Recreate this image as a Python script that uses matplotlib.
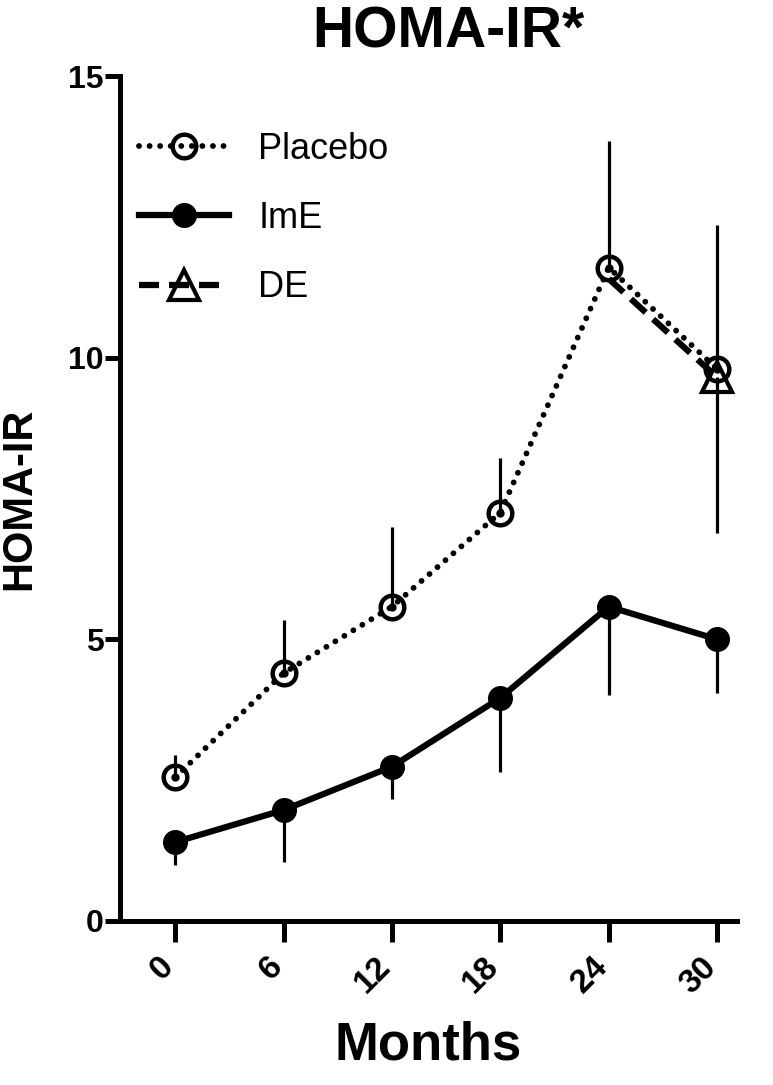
import matplotlib
matplotlib.use("Agg")
import matplotlib.pyplot as plt

plt.rcParams['font.family'] = ['Liberation Sans', 'DejaVu Sans']

# datos
months = [0, 6, 12, 18, 24, 30]
placebo = [2.55, 4.4, 5.58, 7.25, 11.6, 9.8]
placebo_top = [2.95, 5.35, 7.0, 8.22, 13.84, 12.35]
ime = [1.4, 1.97, 2.74, 3.96, 5.58, 5.0]
ime_low = [1.0, 1.05, 2.17, 2.65, 4.01, 4.05]
de_months = [24, 30]
de = [11.4, 9.65]
de_low = [11.4, 6.89]

fig = plt.figure(figsize=(7.73, 10.85), dpi=100)
ax = fig.add_axes([120/773, 1 - 921/1085, 617/773, 845/1085])

# barras de error (solo un lado)
placebo_up = [t - v for t, v in zip(placebo_top, placebo)]
ime_dn = [v - l for v, l in zip(ime, ime_low)]
de_dn = [v - l for v, l in zip(de, de_low)]
ax.errorbar(months, placebo, yerr=[[0]*len(months), placebo_up], fmt='none',
            ecolor='black', elinewidth=2.3, capsize=0, zorder=2)
ax.errorbar(months, ime, yerr=[ime_dn, [0]*len(months)], fmt='none',
            ecolor='black', elinewidth=2.3, capsize=0, zorder=2)
ax.errorbar(de_months[1:], de[1:], yerr=[de_dn[1:], [0]], fmt='none',
            ecolor='black', elinewidth=2.3, capsize=0, zorder=2)

ax.plot(months, ime, color='black', lw=4.5, marker='o', ms=17,
        label='ImE', zorder=3)
ax.plot(de_months, de, color='black', lw=4.5, dashes=(3.2, 1.6),
        marker='^', ms=22, mfc='none', mew=3, markevery=[1],
        label='DE', zorder=4)
ax.plot(months, placebo, color='black', lw=4.2, dashes=(0.01, 1.8),
        dash_capstyle='round', marker='o', ms=17, mfc='none',
        mew=3.2, label='Placebo', zorder=5)
ax.plot(months, placebo, ls='none', marker='o', ms=5, color='black', zorder=5)

ax.set_xlim(-3.05, 31.1)
ax.set_ylim(0, 15)
ax.set_xticks(months)
ax.set_xticklabels([str(m) for m in months], rotation=45, ha='right',
                   va='baseline', rotation_mode='anchor',
                   fontsize=24, fontweight='bold')
ax.set_yticks([0, 5, 10, 15])
ax.set_yticklabels(['0', '5', '10', '15'], fontsize=23, fontweight='bold')
ax.tick_params(axis='y', length=11, width=3.6, pad=1)
ax.tick_params(axis='x', length=15, width=3.6, pad=19)

for s in ['top', 'right']:
    ax.spines[s].set_visible(False)
for s in ['left', 'bottom']:
    ax.spines[s].set_linewidth(3.6)

ax.set_ylabel('HOMA-IR', fontsize=30, fontweight='bold')
ax.yaxis.set_label_coords(-0.131, 0.5)
ax.set_xlabel('Months', fontsize=38, fontweight='bold')
ax.xaxis.set_label_coords(0.5, -0.118)
fig.text(448/773, 1 - 47/1085, 'HOMA-IR*', fontsize=41, fontweight='bold',
         ha='center', va='baseline')

handles, labels = ax.get_legend_handles_labels()
order = [labels.index(n) for n in ['Placebo', 'ImE', 'DE']]
ax.legend([handles[i] for i in order], [labels[i] for i in order],
          loc='upper left', bbox_to_anchor=(0.031, 0.934), frameon=False,
          fontsize=26, handlelength=2.5, handletextpad=0.8,
          labelspacing=0.95, borderpad=0, borderaxespad=0)

fig.savefig('out.png', dpi=100)
